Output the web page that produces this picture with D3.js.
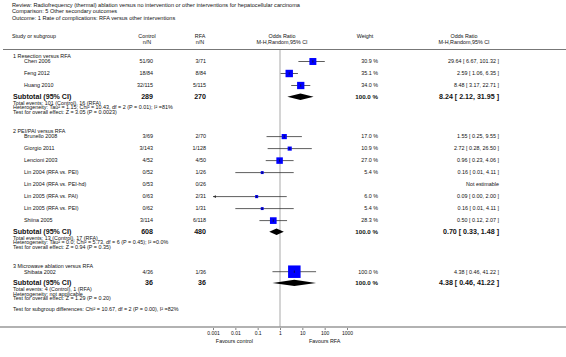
<!DOCTYPE html>
<html>
<head>
<meta charset="utf-8">
<script src="https://cdn.jsdelivr.net/npm/d3@7"></script>
<style>
  body { margin: 0; background: #fff; }
  svg { font-family: "Liberation Sans", Arial, sans-serif; }
</style>
</head>
<body>
<svg id="chart" width="566" height="357"></svg>
<script>
// chart data
var titleLines = [
  "Review:   Radiofrequency (thermal) ablation versus no intervention or other interventions for hepatocellular carcinoma",
  "Comparison:   5 Other secondary outcomes",
  "Outcome:   1 Rate of complications: RFA versus other interventions"
];

var groupNames = ["1 Resection versus RFA", "2 PEI/PAI versus RFA", "3 Microwave ablation versus RFA"];

var studyNames = ["Chen 2006", "Feng 2012", "Huang 2010",
  "Brunello 2008", "Giorgio 2011", "Lencioni 2003", "Lin 2004 (RFA vs. PEI)", "Lin 2004 (RFA vs. PEI-hd)",
  "Lin 2005 (RFA vs. PAI)", "Lin 2005 (RFA vs. PEI)", "Shiina 2005",
  "Shibata 2002"];
var studyGroup = [0, 0, 0, 1, 1, 1, 1, 1, 1, 1, 1, 2];
var controlN = ["51/90", "18/84", "32/115", "3/69", "3/143", "4/52", "0/52", "0/53", "0/63", "0/62", "3/114", "4/36"];
var rfaN = ["3/71", "8/84", "5/115", "2/70", "1/128", "4/50", "1/26", "0/26", "2/31", "1/31", "6/118", "1/36"];
var weights = [30.9, 35.1, 34.0, 17.0, 10.9, 27.0, 5.4, null, 6.0, 5.4, 28.3, 100.0];
var oddsRatio = [29.64, 2.59, 8.48, 1.55, 2.72, 0.96, 0.16, null, 0.09, 0.16, 0.50, 4.38];
var ciLow = [6.67, 1.06, 3.17, 0.25, 0.28, 0.23, 0.01, null, 0.00, 0.01, 0.12, 0.46];
var ciHigh = [101.32, 6.35, 22.71, 9.55, 26.50, 4.06, 4.11, null, 2.00, 4.11, 2.07, 41.22];

var subControlTotal = [289, 608, 36];
var subRfaTotal = [270, 480, 36];
var subOR = [8.24, 0.70, 4.38];
var subLow = [2.12, 0.33, 0.46];
var subHigh = [31.95, 1.48, 41.22];
var subNotes = [
  ["Total events: 101 (Control), 16 (RFA)",
   "Heterogeneity: Tau\u00b2 = 1.15; Chi\u00b2 = 10.43, df = 2 (P = 0.01); I\u00b2 =81%",
   "Test for overall effect: Z = 3.05 (P = 0.0023)"],
  ["Total events: 13 (Control), 17 (RFA)",
   "Heterogeneity: Tau\u00b2 = 0.0; Chi\u00b2 = 5.73, df = 6 (P = 0.45); I\u00b2 =0.0%",
   "Test for overall effect: Z = 0.94 (P = 0.35)"],
  ["Total events: 4 (Control), 1 (RFA)",
   "Heterogeneity: not applicable",
   "Test for overall effect: Z = 1.29 (P = 0.20)"]
];
var subgroupTest = "Test for subgroup differences: Chi\u00b2 = 10.67, df = 2 (P = 0.00), I\u00b2 =82%";

var tickVals = [0.001, 0.01, 0.1, 1, 10, 100, 1000];
var tickLabels = ["0.001", "0.01", "0.1", "1", "10", "100", "1000"];

//////////////////////////////////////////////////////////////////////////////

var svg = d3.select("#chart");
var W = 566;
var fs = 5.4;      // body text
var fsBold = 7.1;  // subtotal rows
var col = { group: 13, study: 24, control: 153, rfa: 206, weight: 378, or: 499 };

var x = d3.scaleLog().domain([0.001, 1000]).range([213, 347]);
var axisY = 327;

function fmt2(v) { return v.toFixed(2); }
function orText(o, l, h) { return fmt2(o) + " [ " + fmt2(l) + ", " + fmt2(h) + " ]"; }

function txt(xp, yp, s, opts) {
  opts = opts || {};
  return svg.append("text")
    .attr("x", xp).attr("y", yp)
    .attr("dy", "0.35em")
    .attr("font-size", opts.size || fs)
    .attr("font-weight", opts.bold ? "bold" : null)
    .attr("text-anchor", opts.anchor || "start")
    .attr("fill", "#111")
    .text(s);
}

// title
titleLines.forEach(function(t, i) {
  txt(12, 5 + i * 6.5, t, { size: 5.6 });
});

// column headers
txt(12, 36, "Study or subgroup");
txt(147, 36, "Control", { anchor: "middle" });
txt(147, 42, "n/N", { anchor: "middle" });
txt(200, 36, "RFA", { anchor: "middle" });
txt(200, 42, "n/N", { anchor: "middle" });
txt(x(1) + 2, 36, "Odds Ratio", { anchor: "middle" });
txt(x(1) + 2, 42, "M-H,Random,95% CI", { anchor: "middle" });
txt(365, 36, "Weight", { anchor: "middle" });
txt(464, 36, "Odds Ratio", { anchor: "middle" });
txt(464, 42, "M-H,Random,95% CI", { anchor: "middle" });

svg.append("line")
  .attr("x1", 3).attr("x2", W)
  .attr("y1", 49.5).attr("y2", 49.5)
  .attr("stroke", "#777").attr("stroke-width", 1);

// line of no effect
svg.append("line")
  .attr("x1", x(1)).attr("x2", x(1))
  .attr("y1", 50).attr("y2", axisY)
  .attr("stroke", "#d4d4d4").attr("stroke-width", 2);

// row layout
var y = 56;
var gRows = groupNames.map(function(name, g) {
  var r = { header: y, studies: [] };
  y += 5.5;
  studyNames.forEach(function(s, i) {
    if (studyGroup[i] === g) { r.studies.push({ i: i, y: y }); y += 12; }
  });
  r.subtotal = y - 0.8;
  r.notes = [y + 5.4, y + 10, y + 14.6];
  y = y + 14.6 + 19;
  return r;
});
var subTestY = gRows[2].notes[2] + 11;

gRows.forEach(function(r, g) {
  txt(col.group, r.header, groupNames[g]);

  r.studies.forEach(function(s) {
    var i = s.i;
    txt(col.study, s.y, studyNames[i]);
    txt(col.control, s.y, controlN[i], { anchor: "end" });
    txt(col.rfa, s.y, rfaN[i], { anchor: "end" });

    if (oddsRatio[i] === null) {
      txt(col.or, s.y, "Not estimable", { anchor: "end" });
      return;
    }
    txt(col.weight, s.y, weights[i].toFixed(1) + " %", { anchor: "end" });
    txt(col.or, s.y, orText(oddsRatio[i], ciLow[i], ciHigh[i]), { anchor: "end" });

    var lowClip = ciLow[i] < x.domain()[0];
    var x1 = lowClip ? x.range()[0] : x(ciLow[i]);
    var x2 = x(Math.min(ciHigh[i], x.domain()[1]));
    svg.append("line")
      .attr("x1", x1).attr("x2", x2)
      .attr("y1", s.y).attr("y2", s.y)
      .attr("stroke", "#333").attr("stroke-width", 0.8);
    if (lowClip) {
      svg.append("path")
        .attr("d", "M" + x1 + "," + s.y + "l3,-1.3v2.6z")
        .attr("fill", "#333");
    }
    var side = 1.25 * Math.sqrt(weights[i]);
    var cx = x(oddsRatio[i]);
    svg.append("rect")
      .attr("x", cx - side / 2).attr("y", s.y - side / 2)
      .attr("width", side).attr("height", side)
      .attr("fill", "#0000ff");
    svg.append("line")
      .attr("x1", cx).attr("x2", cx)
      .attr("y1", s.y - 1.2).attr("y2", s.y + 1.2)
      .attr("stroke", "#111").attr("stroke-width", 0.7);
  });

  // subtotal
  txt(col.group, r.subtotal, "Subtotal (95% CI)", { bold: true, size: fsBold });
  txt(col.control, r.subtotal, subControlTotal[g], { bold: true, size: fsBold, anchor: "end" });
  txt(col.rfa, r.subtotal, subRfaTotal[g], { bold: true, size: fsBold, anchor: "end" });
  txt(col.weight, r.subtotal, "100.0 %", { bold: true, size: 6.2, anchor: "end" });
  txt(col.or, r.subtotal, orText(subOR[g], subLow[g], subHigh[g]), { bold: true, size: fsBold, anchor: "end" });

  var h = 3.2;
  svg.append("path")
    .attr("d", "M" + x(subLow[g]) + "," + r.subtotal +
      "L" + x(subOR[g]) + "," + (r.subtotal - h) +
      "L" + x(subHigh[g]) + "," + r.subtotal +
      "L" + x(subOR[g]) + "," + (r.subtotal + h) + "Z")
    .attr("fill", "#000");

  subNotes[g].forEach(function(t, k) {
    txt(col.group, r.notes[k], t);
  });
});

txt(col.group, subTestY, subgroupTest);

// axis
svg.append("line")
  .attr("x1", 0).attr("x2", W)
  .attr("y1", axisY).attr("y2", axisY)
  .attr("stroke", "#999").attr("stroke-width", 1.5);

var axis = svg.append("g")
  .attr("transform", "translate(0," + (axisY + 1) + ")")
  .call(d3.axisBottom(x)
    .tickValues(tickVals)
    .tickSize(2)
    .tickPadding(1.5)
    .tickFormat(function(d, i) { return tickLabels[i]; }));
axis.select(".domain").remove();
axis.selectAll("line").attr("stroke", "#333").attr("stroke-width", 0.6);
axis.selectAll("text")
  .attr("font-size", 5)
  .attr("font-family", "Liberation Sans, Arial, sans-serif")
  .attr("fill", "#111");

txt(x(1) - 27, axisY + 14, "Favours control", { anchor: "end" });
txt(x(1) + 29, axisY + 14, "Favours RFA");
</script>
</body>
</html>
